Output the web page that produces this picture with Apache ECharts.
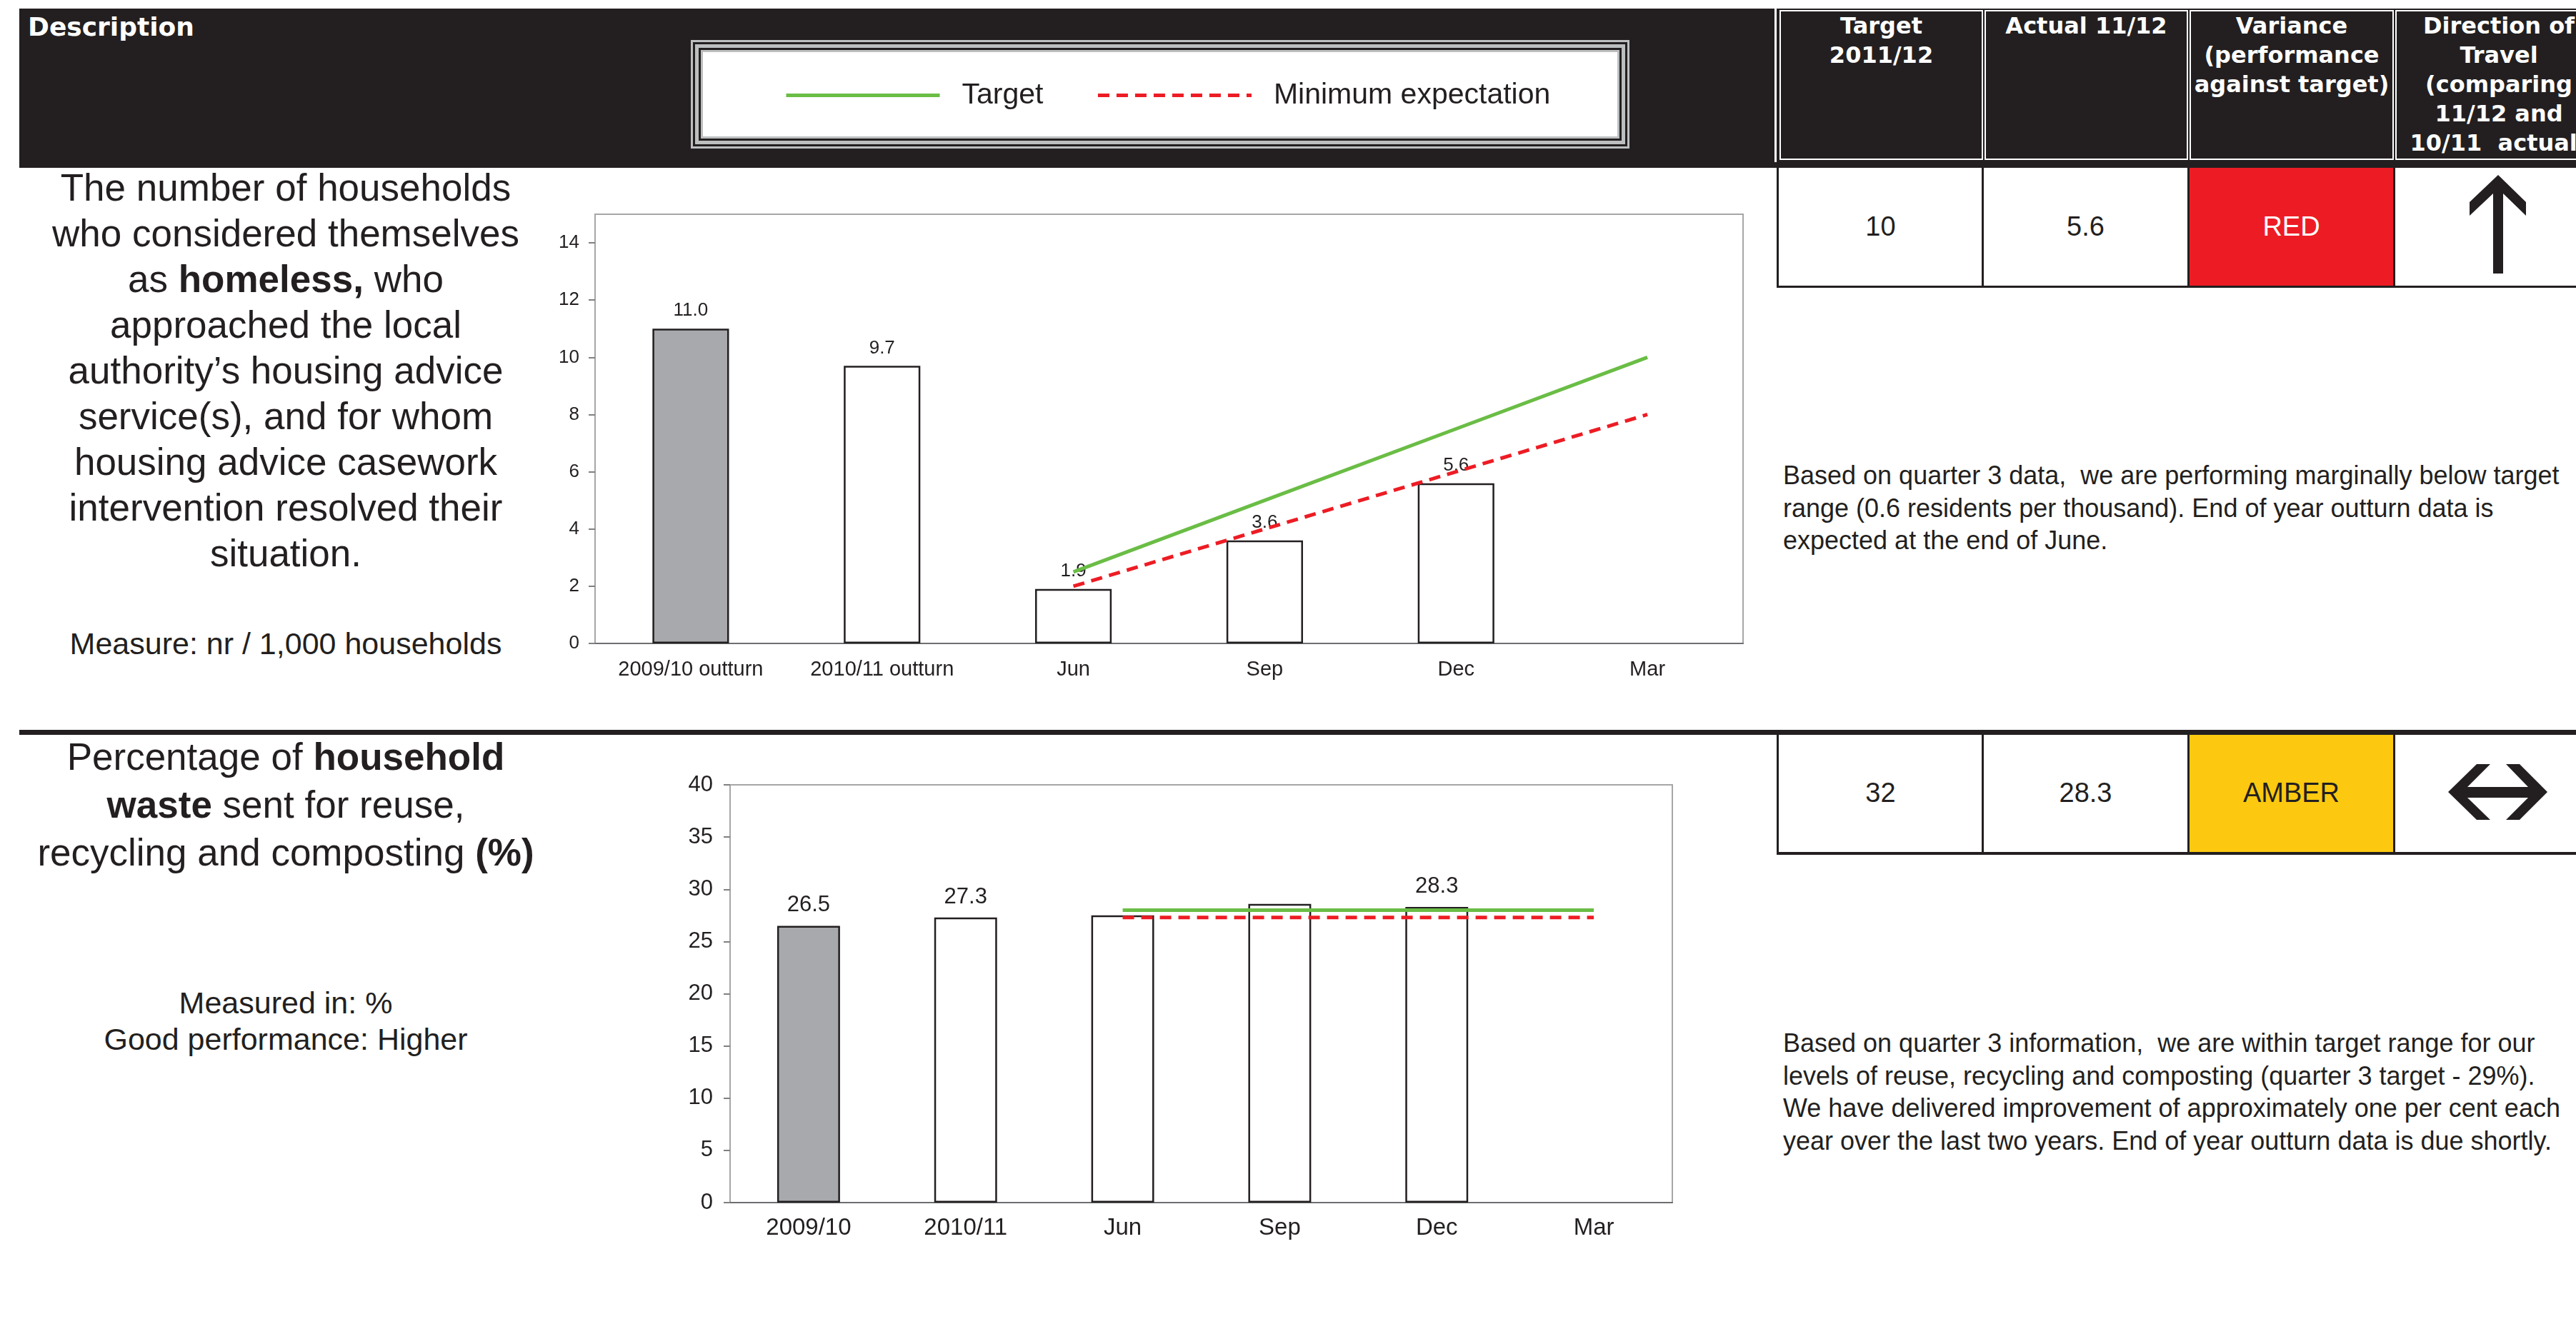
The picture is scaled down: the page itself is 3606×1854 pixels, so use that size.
<!DOCTYPE html>
<html>
<head>
<meta charset="utf-8">
<script src="https://cdn.jsdelivr.net/npm/echarts/dist/echarts.min.js"></script>
<style>
  html, body { margin: 0; padding: 0; background: #fff; }
  body { width: 3606px; height: 1854px; overflow: hidden; position: relative;
         font-family: "Liberation Sans", Arial, sans-serif; color: #231f20; }
  .abs { position: absolute; }
  .blk { position: absolute; background: #231f20; }
  .hdr { position: absolute; top: 14px; height: 210px; box-sizing: border-box;
         border: 2px solid #fff; background: #231f20; color: #fff;
         font-family: "DejaVu Sans", Verdana, sans-serif; font-weight: bold;
         font-size: 32px; line-height: 41px; text-align: center; white-space: pre; }
  .val { position: absolute; width: 285px; text-align: center; font-size: 38px; line-height: 44px; }
  .desc { position: absolute; left: 27px; width: 746px; text-align: center; white-space: nowrap; }
  .note { position: absolute; left: 2496px; font-size: 36px; line-height: 45.5px; white-space: pre; }
  #chart { position: absolute; left: 0; top: 0; width: 3606px; height: 1854px; z-index: 5; }
</style>
</head>
<body>
<!-- header band -->
<div class="blk" style="left:27px;top:12px;width:2457px;height:221px;"></div>
<div class="abs" style="left:39px;top:16px;color:#fff;font-family:'DejaVu Sans',Verdana,sans-serif;font-weight:bold;font-size:36px;line-height:44px;">Description</div>
<div class="abs" style="left:984px;top:73px;width:1280px;height:118px;background:#fff;
     box-shadow:0 0 0 3px #bcbec0,0 0 0 6px #231f20,0 0 0 11px #bcbec0,0 0 0 14px #231f20,0 0 0 17px #bcbec0;"></div>

<div class="blk" style="left:2487px;top:12px;width:1119px;height:223px;"></div>
<div class="hdr" style="left:2491px;width:285px;">Target
2011/12</div>
<div class="hdr" style="left:2778px;width:285px;">Actual 11/12</div>
<div class="hdr" style="left:3065px;width:286px;">Variance
(performance
against target)</div>
<div class="hdr" style="left:3353px;width:290px;">Direction of
Travel
(comparing
11/12 and
10/11  actual)</div>
<div class="blk" style="left:27px;top:227px;width:3579px;height:8px;"></div>

<!-- row 1 table -->
<div class="abs" style="left:3065px;top:235px;width:285px;height:165px;background:#ed1c24;"></div>
<div class="blk" style="left:2487px;top:235px;width:3px;height:168px;"></div>
<div class="blk" style="left:2774px;top:235px;width:3px;height:168px;"></div>
<div class="blk" style="left:3062px;top:235px;width:3px;height:168px;"></div>
<div class="blk" style="left:3350px;top:235px;width:3px;height:168px;"></div>
<div class="blk" style="left:2487px;top:400px;width:1119px;height:3px;"></div>
<div class="val" id="r1t" style="left:2490px;top:295px;"></div>
<div class="val" id="r1a" style="left:2777px;top:295px;"></div>
<div class="val" style="left:3065px;top:295px;color:#fff;">RED</div>
<svg class="abs" style="left:0;top:0;" width="3606" height="1854">
  <polygon fill="#231f20" points="3497,245 3536,283 3536,302 3504,271 3504,383 3490,383 3490,271 3457,302 3457,283"/>
  <polygon fill="#231f20" points="3427,1109 3467,1070 3486,1070 3454,1102 3539,1102 3508,1070 3527,1070 3566,1109 3527,1148 3508,1148 3539,1117 3454,1117 3486,1148 3467,1148"/>
</svg>

<!-- row 2 table -->
<div class="blk" style="left:27px;top:1022px;width:3579px;height:7px;"></div>
<div class="abs" style="left:3065px;top:1029px;width:285px;height:164px;background:#fcc910;"></div>
<div class="blk" style="left:2487px;top:1029px;width:3px;height:168px;"></div>
<div class="blk" style="left:2774px;top:1029px;width:3px;height:168px;"></div>
<div class="blk" style="left:3062px;top:1029px;width:3px;height:168px;"></div>
<div class="blk" style="left:3350px;top:1029px;width:3px;height:168px;"></div>
<div class="blk" style="left:2487px;top:1193px;width:1119px;height:4px;"></div>
<div class="val" id="r2t" style="left:2490px;top:1088px;"></div>
<div class="val" id="r2a" style="left:2777px;top:1088px;"></div>
<div class="val" style="left:3065px;top:1088px;">AMBER</div>

<!-- descriptions -->
<div class="desc" style="top:231px;font-size:53px;line-height:64px;">The number of households<br>who considered themselves<br>as <b>homeless,</b> who<br>approached the local<br>authority’s housing advice<br>service(s), and for whom<br>housing advice casework<br>intervention resolved their<br>situation.</div>
<div class="desc" style="top:876px;font-size:43px;line-height:50px;">Measure: nr / 1,000 households</div>
<div class="desc" style="top:1026px;font-size:53px;line-height:67px;">Percentage of <b>household</b><br><b>waste</b> sent for reuse,<br>recycling and composting <b>(%)</b></div>
<div class="desc" style="top:1379px;font-size:43px;line-height:51px;">Measured in: %<br>Good performance: Higher</div>

<!-- commentary -->
<div class="note" style="top:643px;">Based on quarter 3 data,  we are performing marginally below target
range (0.6 residents per thousand). End of year outturn data is
expected at the end of June.</div>
<div class="note" style="top:1438px;">Based on quarter 3 information,  we are within target range for our
levels of reuse, recycling and composting (quarter 3 target - 29%).
We have delivered improvement of approximately one per cent each
year over the last two years. End of year outturn data is due shortly.</div>

<div id="chart"></div>

<script>
// Table figures
const homelessTarget = '10';
const homelessActual = '5.6';
const wasteTarget = '32';
const wasteActual = '28.3';

// Homelessness prevention (nr per 1,000 households)
const homelessCategories = ['2009/10 outturn', '2010/11 outturn', 'Jun', 'Sep', 'Dec', 'Mar'];
const homelessActuals = [11.0, 9.7, 1.9, 3.6, 5.6, null];
const homelessTargetLine = [null, null, 2.5, 5.0, 7.5, 10.0];
const homelessMinimumLine = [null, null, 2.0, 4.0, 6.0, 8.0];
const homelessTicks = [0, 2, 4, 6, 8, 10, 12, 14];

// Household waste reused, recycled or composted (%)
const wasteCategories = ['2009/10', '2010/11', 'Jun', 'Sep', 'Dec', 'Mar'];
const wasteActuals = [26.5, 27.3, 27.5, 28.6, 28.3, null];
const wasteLabelled = [true, true, false, false, true, false];
const wasteTargetLine = [null, null, 28, 28, 28, 28];
const wasteMinimumLine = [null, null, 27.3, 27.3, 27.3, 27.3];
const wasteTicks = [0, 5, 10, 15, 20, 25, 30, 35, 40];

document.getElementById('r1t').textContent = homelessTarget;
document.getElementById('r1a').textContent = homelessActual;
document.getElementById('r2t').textContent = wasteTarget;
document.getElementById('r2a').textContent = wasteActual;

const INK = '#231f20';
const GREY_BAR = '#a7a9ac';
const GREEN = '#6abd45';
const RED = '#ed1c24';
const FONT = 'Liberation Sans';

function barData(values, labelled) {
  return values.map((v, i) => {
    if (v === null) return null;
    const item = { value: v };
    if (i === 0) item.itemStyle = { color: GREY_BAR };
    if (labelled && !labelled[i]) item.label = { show: false };
    return item;
  });
}

function xAxisFor(gridIndex, cats, fontSize, margin) {
  return {
    gridIndex, type: 'category', data: cats,
    axisLine: { lineStyle: { color: '#6d6e71', width: 2 } },
    axisTick: { length: 9, lineStyle: { color: '#6d6e71', width: 2 } },
    axisLabel: { color: INK, fontFamily: FONT, fontSize, margin }
  };
}

function yAxisFor(gridIndex, max, interval, ticks, fontSize, margin) {
  return {
    gridIndex, type: 'value', min: 0, max, interval,
    splitLine: { show: false },
    axisLine: { show: true, lineStyle: { color: '#a6a6a6', width: 2 } },
    axisTick: { show: true, length: 9, customValues: ticks, lineStyle: { color: '#808080', width: 2 } },
    axisLabel: { color: INK, fontFamily: FONT, fontSize, margin, customValues: ticks }
  };
}

function lineSeries(name, data, axisIndex, color, dashed) {
  return {
    name, type: 'line', xAxisIndex: axisIndex, yAxisIndex: axisIndex, data,
    symbol: 'none', z: 4, silent: true,
    lineStyle: { color, width: 5, type: dashed ? [16, 10] : 'solid', cap: 'butt' },
    itemStyle: { color }
  };
}

const chart = echarts.init(document.getElementById('chart'), null, { renderer: 'canvas' });
chart.setOption({
  animation: false,
  backgroundColor: 'transparent',
  legend: {
    data: ['Target', 'Minimum expectation'],
    left: 1098, top: 113, padding: 0,
    itemWidth: 215, itemHeight: 20, itemGap: 74,
    itemStyle: { color: 'transparent', borderColor: 'transparent', borderWidth: 0 },
    lineStyle: { width: 5 },
    textStyle: { color: INK, fontFamily: FONT, fontSize: 41, padding: [0, 0, 0, 26] },
    selectedMode: false
  },
  grid: [
    { left: 833, top: 300, width: 1607, height: 601, show: true, borderColor: '#a6a6a6', borderWidth: 2 },
    { left: 1022, top: 1099, width: 1319, height: 585, show: true, borderColor: '#a6a6a6', borderWidth: 2 }
  ],
  xAxis: [
    xAxisFor(0, homelessCategories, 29, 22),
    xAxisFor(1, wasteCategories, 33, 19)
  ],
  yAxis: [
    yAxisFor(0, 15, 1, homelessTicks, 26, 22),
    yAxisFor(1, 40, 5, wasteTicks, 31, 24)
  ],
  series: [
    {
      name: 'Actual', type: 'bar', xAxisIndex: 0, yAxisIndex: 0, barWidth: '40%',
      data: barData(homelessActuals),
      itemStyle: { color: '#fff', borderColor: INK, borderWidth: 2.5 },
      label: { show: true, position: 'top', distance: 12, color: INK, fontFamily: FONT, fontSize: 26,
               formatter: p => Number(p.value).toFixed(1) }
    },
    lineSeries('Target', homelessTargetLine, 0, GREEN, false),
    lineSeries('Minimum expectation', homelessMinimumLine, 0, RED, true),
    {
      name: 'Actual', type: 'bar', xAxisIndex: 1, yAxisIndex: 1, barWidth: '40%',
      data: barData(wasteActuals, wasteLabelled),
      itemStyle: { color: '#fff', borderColor: INK, borderWidth: 2.5 },
      label: { show: true, position: 'top', distance: 13, color: INK, fontFamily: FONT, fontSize: 31,
               formatter: p => Number(p.value).toFixed(1) }
    },
    lineSeries('Target', wasteTargetLine, 1, GREEN, false),
    lineSeries('Minimum expectation', wasteMinimumLine, 1, RED, true)
  ]
});
</script>
</body>
</html>
